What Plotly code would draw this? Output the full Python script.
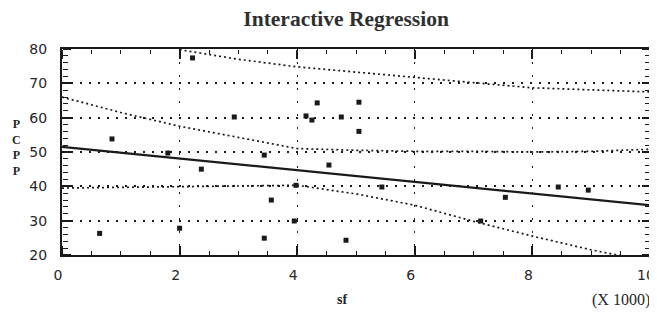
import plotly.graph_objects as go

# ---- data ----
x_pts = [0.85, 2.22, 2.93, 4.34, 5.05, 4.15, 4.25, 4.75, 5.05, 1.80, 2.37, 0.64, 2.00,
         3.44, 4.54, 3.56, 3.95, 3.98, 3.44, 4.83, 5.44, 7.12, 7.54, 8.44, 8.95]
y_pts = [53.8, 77.4, 60.2, 64.3, 64.5, 60.5, 59.3, 60.2, 56.0, 49.7, 45.0, 26.3, 27.8,
         49.1, 46.2, 36.0, 29.9, 40.3, 24.9, 24.3, 39.8, 29.9, 36.8, 39.8, 38.9]

fit_x = [0, 10]
fit_y = [51.5, 34.5]

upper_ci_x = [0, 1, 2, 3, 4, 5, 6, 7, 8, 9, 10]
upper_ci_y = [66.0, 61.5, 57.5, 54.3, 51.0, 50.5, 50.2, 50.2, 50.0, 50.2, 50.8]

lower_ci_x = [0, 1, 2, 3, 4, 5, 6, 7, 8, 9, 9.5]
lower_ci_y = [39.5, 39.7, 39.9, 40.1, 40.3, 37.8, 34.5, 29.8, 25.5, 21.5, 19.8]

upper_pi_x = [2.0, 3, 4, 5, 6, 7, 8, 9, 10]
upper_pi_y = [79.8, 77.0, 74.8, 73.2, 71.7, 70.2, 68.7, 68.0, 67.5]

x_range = [0, 10]
y_range = [20, 80]

title_text = "Interactive Regression"
x_label = "sf"
x_scale_note = "(X 1000)"
y_label = "P<br>C<br>P<br>P"

INK = "#1a1a1a"
TXT = "#262626"

fig = go.Figure()

band_style = dict(color=INK, width=1.7, dash="2px,3px")
for bx, by in [(upper_pi_x, upper_pi_y), (upper_ci_x, upper_ci_y), (lower_ci_x, lower_ci_y)]:
    fig.add_trace(go.Scatter(x=bx, y=by, mode="lines", line=band_style,
                             hoverinfo="skip", showlegend=False))

fig.add_trace(go.Scatter(x=fit_x, y=fit_y, mode="lines",
                         line=dict(color=INK, width=2.2), showlegend=False))

fig.add_trace(go.Scatter(x=x_pts, y=y_pts, mode="markers",
                         marker=dict(symbol="square", size=5, color=INK),
                         showlegend=False))

# empty traces so the tick-only overlay axes are drawn
fig.add_trace(go.Scatter(x=[], y=[], xaxis="x2", yaxis="y2", showlegend=False, hoverinfo="skip"))
fig.add_trace(go.Scatter(x=[], y=[], xaxis="x3", yaxis="y3", showlegend=False, hoverinfo="skip"))

# page body has an 8px margin, so the figure is sized/offset to compensate
fig.update_layout(
    width=649, height=308,
    margin=dict(l=54, r=7, t=41, b=61, autoexpand=False),
    paper_bgcolor="white", plot_bgcolor="white",
    showlegend=False,
    title=dict(text=title_text, x=0.521, xanchor="center", y=0.966, yanchor="middle",
               font=dict(family="Liberation Serif", size=21.5, color="#303030", weight="bold")),
    font=dict(family="DejaVu Sans", size=13, color=TXT),
)

# main axes: frame, dotted grid, labels
fig.update_layout(
    xaxis=dict(
        range=x_range, tickmode="linear", tick0=0, dtick=2, ticks="",
        showline=True, linecolor=INK, linewidth=2, mirror=True,
        showgrid=True, gridcolor=INK, gridwidth=1.3, griddash="2px,11px",
        zeroline=False, automargin=False, ticklabeloverflow="allow", ticklabelshift=-4,
        ticklabelstandoff=6,
        tickfont=dict(family="DejaVu Sans", size=14, color=TXT),
    ),
    yaxis=dict(
        range=y_range, tickmode="linear", tick0=20, dtick=10, ticks="",
        showline=True, linecolor=INK, linewidth=2, mirror=True,
        showgrid=True, gridcolor=INK, gridwidth=1.5, griddash="2px,7px",
        zeroline=False, ticklabelstandoff=10, automargin=False,
        tickfont=dict(family="DejaVu Sans", size=14, color=TXT),
    ),
)

# tick-only axes whose "outside" ticks point into the plot (bottom/top, left/right)
xtick_common = dict(range=x_range, tickmode="linear", tick0=0, dtick=2,
                    ticks="outside", ticklen=9, tickwidth=1.6, tickcolor=INK,
                    minor=dict(tick0=0, dtick=0.5, ticks="outside", ticklen=4,
                               tickwidth=1.3, tickcolor=INK, showgrid=False),
                    showticklabels=False, showgrid=False, zeroline=False, showline=False,
                    overlaying="x", anchor="free", automargin=False)
ytick_common = dict(range=y_range, tickmode="linear", tick0=20, dtick=10,
                    ticks="outside", ticklen=8, tickwidth=1.6, tickcolor=INK,
                    minor=dict(tick0=20, dtick=2, ticks="outside", ticklen=5,
                               tickwidth=1.3, tickcolor=INK, showgrid=False),
                    showticklabels=False, showgrid=False, zeroline=False, showline=False,
                    overlaying="y", anchor="free", automargin=False)
fig.update_layout(
    xaxis2=dict(side="top", position=0, **xtick_common),
    xaxis3=dict(side="bottom", position=1, **xtick_common),
    yaxis2=dict(side="right", position=0, **ytick_common),
    yaxis3=dict(side="left", position=1, **ytick_common),
)

fig.add_annotation(text=y_label, xref="paper", yref="paper", x=-0.078, y=0.52,
                   xanchor="center", yanchor="middle", showarrow=False, align="center",
                   font=dict(family="Liberation Serif", size=12, color=TXT, weight="bold"))
fig.add_annotation(text=x_label, xref="paper", yref="paper", x=0.476, y=-0.218,
                   xanchor="center", yanchor="middle", showarrow=False,
                   font=dict(family="Liberation Serif", size=14, color=TXT, weight="bold"))
fig.add_annotation(text=x_scale_note, xref="paper", yref="paper", x=1.003, y=-0.218,
                   xanchor="right", yanchor="middle", showarrow=False,
                   font=dict(family="Liberation Serif", size=16, color=TXT))

fig.write_html("out.html")
